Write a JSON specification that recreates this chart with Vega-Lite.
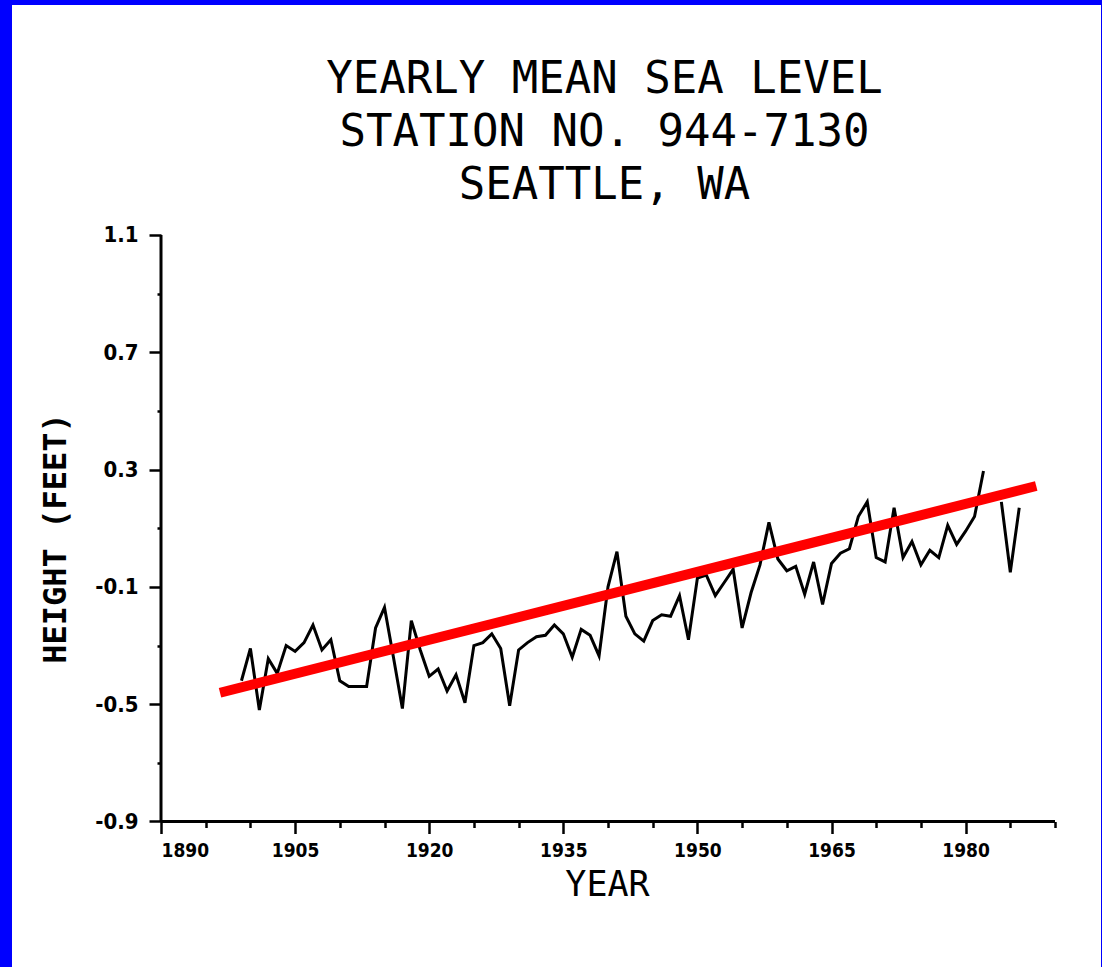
{
  "$schema": "https://vega.github.io/schema/vega-lite/v6.json",
  "width": 1089,
  "height": 962,
  "autosize": {"type": "none"},
  "padding": {"left": 12, "top": 5, "right": 1, "bottom": 0},
  "background": "#0000ff",
  "config": {"view": {"fill": "white", "stroke": null}},
  "title": {
    "text": ["YEARLY MEAN SEA LEVEL", "STATION NO. 944-7130", "SEATTLE, WA"],
    "font": "DejaVu Sans Mono",
    "fontSize": 44,
    "fontWeight": "normal",
    "color": "black",
    "lineHeight": 53,
    "anchor": "middle",
    "dx": 48,
    "offset": -203
  },
  "datasets": {
    "sea": [
      {"year": 1899, "h": -0.42}, {"year": 1900, "h": -0.31}, {"year": 1901, "h": -0.52},
      {"year": 1902, "h": -0.345}, {"year": 1903, "h": -0.395}, {"year": 1904, "h": -0.30},
      {"year": 1905, "h": -0.32}, {"year": 1906, "h": -0.29}, {"year": 1907, "h": -0.23},
      {"year": 1908, "h": -0.315}, {"year": 1909, "h": -0.28}, {"year": 1910, "h": -0.42},
      {"year": 1911, "h": -0.44}, {"year": 1912, "h": -0.44}, {"year": 1913, "h": -0.44},
      {"year": 1914, "h": -0.24}, {"year": 1915, "h": -0.17}, {"year": 1916, "h": -0.34},
      {"year": 1917, "h": -0.515}, {"year": 1918, "h": -0.215}, {"year": 1919, "h": -0.315},
      {"year": 1920, "h": -0.405}, {"year": 1921, "h": -0.38}, {"year": 1922, "h": -0.455},
      {"year": 1923, "h": -0.40}, {"year": 1924, "h": -0.495}, {"year": 1925, "h": -0.30},
      {"year": 1926, "h": -0.29}, {"year": 1927, "h": -0.26}, {"year": 1928, "h": -0.31},
      {"year": 1929, "h": -0.505}, {"year": 1930, "h": -0.315}, {"year": 1931, "h": -0.29},
      {"year": 1932, "h": -0.27}, {"year": 1933, "h": -0.265}, {"year": 1934, "h": -0.23},
      {"year": 1935, "h": -0.26}, {"year": 1936, "h": -0.34}, {"year": 1937, "h": -0.245},
      {"year": 1938, "h": -0.265}, {"year": 1939, "h": -0.335}, {"year": 1940, "h": -0.10},
      {"year": 1941, "h": 0.02}, {"year": 1942, "h": -0.20}, {"year": 1943, "h": -0.26},
      {"year": 1944, "h": -0.285}, {"year": 1945, "h": -0.215}, {"year": 1946, "h": -0.195},
      {"year": 1947, "h": -0.20}, {"year": 1948, "h": -0.13}, {"year": 1949, "h": -0.28},
      {"year": 1950, "h": -0.07}, {"year": 1951, "h": -0.06}, {"year": 1952, "h": -0.13},
      {"year": 1953, "h": -0.085}, {"year": 1954, "h": -0.04}, {"year": 1955, "h": -0.24},
      {"year": 1956, "h": -0.12}, {"year": 1957, "h": -0.025}, {"year": 1958, "h": 0.12},
      {"year": 1959, "h": -0.005}, {"year": 1960, "h": -0.045}, {"year": 1961, "h": -0.03},
      {"year": 1962, "h": -0.125}, {"year": 1963, "h": -0.015}, {"year": 1964, "h": -0.16},
      {"year": 1965, "h": -0.02}, {"year": 1966, "h": 0.015}, {"year": 1967, "h": 0.03},
      {"year": 1968, "h": 0.14}, {"year": 1969, "h": 0.19}, {"year": 1970, "h": 0.0},
      {"year": 1971, "h": -0.015}, {"year": 1972, "h": 0.17}, {"year": 1973, "h": 0.0},
      {"year": 1974, "h": 0.055}, {"year": 1975, "h": -0.025}, {"year": 1976, "h": 0.025},
      {"year": 1977, "h": 0.0}, {"year": 1978, "h": 0.11}, {"year": 1979, "h": 0.045},
      {"year": 1980, "h": 0.09}, {"year": 1981, "h": 0.14}, {"year": 1982, "h": 0.295},
      {"year": 1983, "h": null}, {"year": 1984, "h": 0.19}, {"year": 1985, "h": -0.05},
      {"year": 1986, "h": 0.17}
    ],
    "trend": [
      {"year": 1896.6, "h": -0.461},
      {"year": 1987.9, "h": 0.244}
    ]
  },
  "layer": [
    {
      "data": {"name": "sea"},
      "mark": {"type": "line", "color": "black", "strokeWidth": 3, "invalid": "break-paths-show-domains"},
      "encoding": {
        "x": {
          "field": "year", "type": "quantitative",
          "scale": {"domain": [1873.333, 1995.145], "nice": false, "zero": false},
          "axis": {
            "title": "YEAR",
            "orient": "bottom",
            "offset": -145.5,
            "domain": false,
            "grid": false,
            "values": [1890, 1895, 1900, 1905, 1910, 1915, 1920, 1925, 1930, 1935, 1940, 1945, 1950, 1955, 1960, 1965, 1970, 1975, 1980, 1985, 1990],
            "tickColor": "black",
            "tickWidth": 2.5,
            "tickSize": {"condition": {"test": "(datum.value - 1890) % 15 === 0", "value": 12}, "value": 6},
            "labelExpr": "(datum.value - 1890) % 15 === 0 ? '' + datum.value : ''",
            "labelAlign": {"condition": {"test": "datum.value === 1890", "value": "left"}, "value": "center"},
            "labelFlush": false,
            "labelOverlap": false,
            "labelFont": "DejaVu Sans Condensed, DejaVu Sans",
            "labelFontSize": 19,
            "labelFontWeight": "bold",
            "labelColor": "black",
            "labelPadding": 8,
            "titleFont": "DejaVu Sans Mono",
            "titleFontSize": 35,
            "titleFontWeight": "normal",
            "titleColor": "black",
            "titleX": 595,
            "titlePadding": 7
          }
        },
        "y": {
          "field": "h", "type": "quantitative",
          "scale": {"domain": [-1.3962, 1.8843], "nice": false, "zero": false},
          "axis": {
            "title": "HEIGHT (FEET)",
            "offset": -149,
            "domain": false,
            "grid": false,
            "values": [-0.9, -0.7, -0.5, -0.3, -0.1, 0.1, 0.3, 0.5, 0.7, 0.9, 1.1],
            "tickColor": "black",
            "tickWidth": 2.5,
            "tickSize": {"condition": {"test": "abs(round((datum.value + 0.9) * 10)) % 4 === 0", "value": 12}, "value": 4},
            "labelExpr": "abs(round((datum.value + 0.9) * 10)) % 4 === 0 ? replace(format(datum.value, '.1f'), '\u2212', '-') : ''",
            "labelFlush": false,
            "labelOverlap": false,
            "labelFont": "DejaVu Sans Condensed, DejaVu Sans",
            "labelFontSize": 22,
            "labelFontWeight": "bold",
            "labelColor": "black",
            "labelPadding": 11,
            "titleFont": "DejaVu Sans Mono",
            "titleFontSize": 32,
            "titleFontWeight": "bold",
            "titleColor": "black",
            "titleY": 533,
            "titlePadding": 22
          }
        }
      }
    },
    {
      "data": {"name": "trend"},
      "mark": {"type": "line", "color": "#ff0000", "strokeWidth": 10},
      "encoding": {
        "x": {"field": "year", "type": "quantitative", "scale": {"domain": [1873.333, 1995.145], "nice": false, "zero": false}},
        "y": {"field": "h", "type": "quantitative", "scale": {"domain": [-1.3962, 1.8843], "nice": false, "zero": false}}
      }
    },
    {
      "data": {"values": [{}]},
      "mark": {"type": "rule", "color": "black", "strokeWidth": 3},
      "encoding": {
        "x": {"datum": 1890, "type": "quantitative"},
        "y": {"datum": -0.9, "type": "quantitative"},
        "y2": {"datum": 1.1}
      }
    },
    {
      "data": {"values": [{}]},
      "mark": {"type": "rule", "color": "black", "strokeWidth": 3},
      "encoding": {
        "x": {"datum": 1890, "type": "quantitative"},
        "x2": {"datum": 1990},
        "y": {"datum": -0.9, "type": "quantitative"}
      }
    }
  ]
}
